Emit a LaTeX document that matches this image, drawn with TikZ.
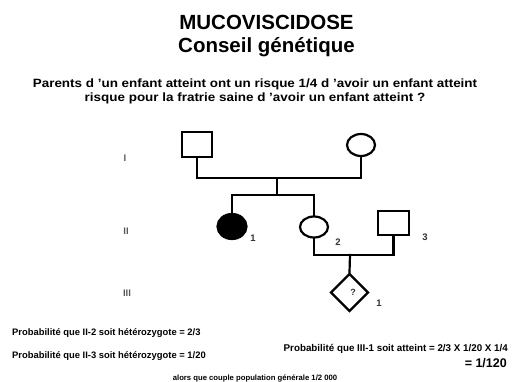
\documentclass[tikz,border=0pt]{standalone}
\usepackage{fontspec}
\usepackage{graphicx}
\setmainfont{Liberation Sans}
\usetikzlibrary{shapes.geometric}

\tikzset{
  txt/.style={inner sep=0pt, font=\bfseries},
  ped/.style={draw=black, line width=2.2pt},
  male/.style={ped, rectangle, inner sep=0pt, minimum width=30pt, minimum height=25pt},
  female/.style={ped, ellipse, inner sep=0pt},
  affected/.style={fill=black},
  unknown/.style={ped, diamond, aspect=1, inner sep=0pt, minimum width=38pt, minimum height=38pt},
  link/.style={line width=2.2pt, line cap=rect},
  gen/.style={inner sep=0pt, text=black!65, font=\bfseries\fontsize{9.5}{10}\selectfont},
  num/.style={inner sep=0pt, text=black!80, font=\bfseries\fontsize{9.5}{10}\selectfont},
}

\begin{document}
\begin{tikzpicture}[x=1pt, y=-1pt]
\useasboundingbox (0,0) rectangle (532,382);

% titles
\node[txt, anchor=base, font=\bfseries\fontsize{20.5}{24}\selectfont] (t1) at (266.5,30) {MUCOVISCIDOSE};
\node[txt, anchor=base, font=\bfseries\fontsize{20.5}{24}\selectfont] (t2) at (266.5,53) {Conseil génétique};
\node[txt, anchor=base, font=\bfseries\fontsize{12}{14}\selectfont] (q1) at (255,88)
  {\scalebox{1.12}[1]{Parents d 'un enfant atteint ont un risque 1/4 d 'avoir un enfant atteint}};
\node[txt, anchor=base, font=\bfseries\fontsize{12}{14}\selectfont] (q2) at (255,102)
  {\scalebox{1.12}[1]{risque pour la fratrie saine d 'avoir un enfant atteint ?}};

% generation numbers
\node[gen] (gI) at (125,158) {I};
\node[gen] (gII) at (126,231) {II};
\node[gen] (gIII) at (127,293) {III};

% individuals
\node[male] (i1) at (197,144.5) {};
\node[female, minimum width=28pt, minimum height=22pt] (i2) at (361,145) {};
\node[female, affected, minimum width=29pt, minimum height=25pt] (ii1) at (232,226.5) {};
\node[female, minimum width=28pt, minimum height=21pt] (ii2) at (314,227) {};
\node[male, minimum width=31pt, minimum height=24pt] (ii3) at (393.5,223) {};
\node[unknown] (iii1) at (349.5,292.5) {};
\node[txt, font=\bfseries\fontsize{9}{10}\selectfont, text=black!80] (qm) at (353,292) {?};

% individual numbers
\node[num] (n11) at (253,238) {1};
\node[num] (n22) at (338,242) {2};
\node[num] (n23) at (425,237) {3};
\node[num] (n31) at (379,303) {1};

% lines of descent
\coordinate (m1) at (277,178);
\coordinate (s1) at (277,195);
\coordinate (m2) at (350,255);
\draw[link] (i1.south) |- (m1) -| (i2.south);
\draw[link] (m1) -- (s1);
\draw[link] (ii1.north) |- (s1) -| (ii2.north);
\draw[link] (ii2.south) |- (m2) -| (ii3.south);
\draw[link] (m2) -- (iii1.north);

% probabilities
\node[txt, anchor=base west, font=\bfseries\fontsize{9.4}{11}\selectfont] (p1) at (12,335)
  {Probabilité que II-2 soit hétérozygote = 2/3};
\node[txt, anchor=base west, font=\bfseries\fontsize{9.4}{11}\selectfont] (p2) at (12,358)
  {Probabilité que II-3 soit hétérozygote = 1/20};
\node[txt, anchor=base east, font=\bfseries\fontsize{9.8}{11}\selectfont] (p3) at (508,351)
  {Probabilité que III-1 soit atteint = 2/3 X 1/20 X 1/4};
\node[txt, anchor=base east, font=\bfseries\fontsize{12.5}{14}\selectfont] (p4) at (507,367)
  {= 1/120};
\node[txt, anchor=base, font=\bfseries\fontsize{7.7}{9}\selectfont] (p5) at (255,380)
  {alors que couple population générale 1/2 000};
\end{tikzpicture}
\end{document}
